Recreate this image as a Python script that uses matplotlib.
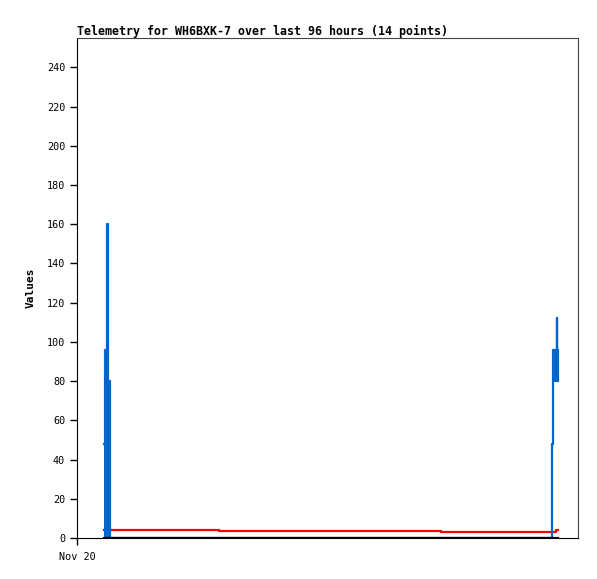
import matplotlib
matplotlib.use("Agg")
import matplotlib.pyplot as plt

# hours since Nov 20 00:00
hours = [5.11, 5.42, 5.75, 6.00, 6.27, 27.21, 69.75,
         91.02, 91.25, 91.59, 91.79, 91.94, 92.05, 92.17]
blue_vals = [48, 96, 160, 80, 0, 0, 0,
             48, 96, 80, 96, 112, 96, 80]
red_vals = [4, 4, 4, 4, 4, 3.5, 3,
            3, 3, 3, 4, 4, 4, 4]
black_vals = [0] * 14

title = "Telemetry for WH6BXK-7 over last 96 hours (14 points)"
yticks = list(range(0, 241, 20))
xtick_pos = [0]
xtick_labels = ["Nov 20"]

mono = "DejaVu Sans Mono"

fig = plt.figure(figsize=(5.97, 5.79), dpi=100)
ax = fig.add_axes([77 / 597, 41 / 579, 501 / 597, 500 / 579])

ax.step(hours, red_vals, where="post", color="#ff0000", lw=1.6, zorder=2)
ax.step(hours, blue_vals, where="post", color="#0066cc", lw=1.6, zorder=3)
# first burst is drawn as solid spikes from zero
first_burst = [h < 48 for h in hours]
ax.fill_between(hours, 0, blue_vals, where=first_burst, step="post",
                color="#0066cc", lw=0, zorder=3)
ax.step(hours, black_vals, where="post", color="black", lw=1.6, zorder=4)

ax.set_xlim(0, 96)
ax.set_ylim(0, 255)
ax.set_yticks(yticks)
ax.set_yticklabels([str(v) for v in yticks], family=mono, fontsize=7.3)
ax.set_xticks(xtick_pos)
ax.set_xticklabels(xtick_labels, family=mono, fontsize=7.3)
ax.tick_params(direction="out", length=5, width=1)
ax.tick_params(axis="y", pad=3.5)
ax.tick_params(axis="x", pad=5)

for side in ["left", "bottom"]:
    ax.spines[side].set_color("black")
for side in ["top", "right"]:
    ax.spines[side].set_color("#444444")

ax.set_ylabel("Values", family=mono, fontsize=8, fontweight="bold", labelpad=8)
fig.text(77 / 597, 1 - 35 / 579, title, family=mono, fontsize=8.4,
         fontweight="bold", ha="left", va="baseline")

fig.savefig("out.png", dpi=100)
